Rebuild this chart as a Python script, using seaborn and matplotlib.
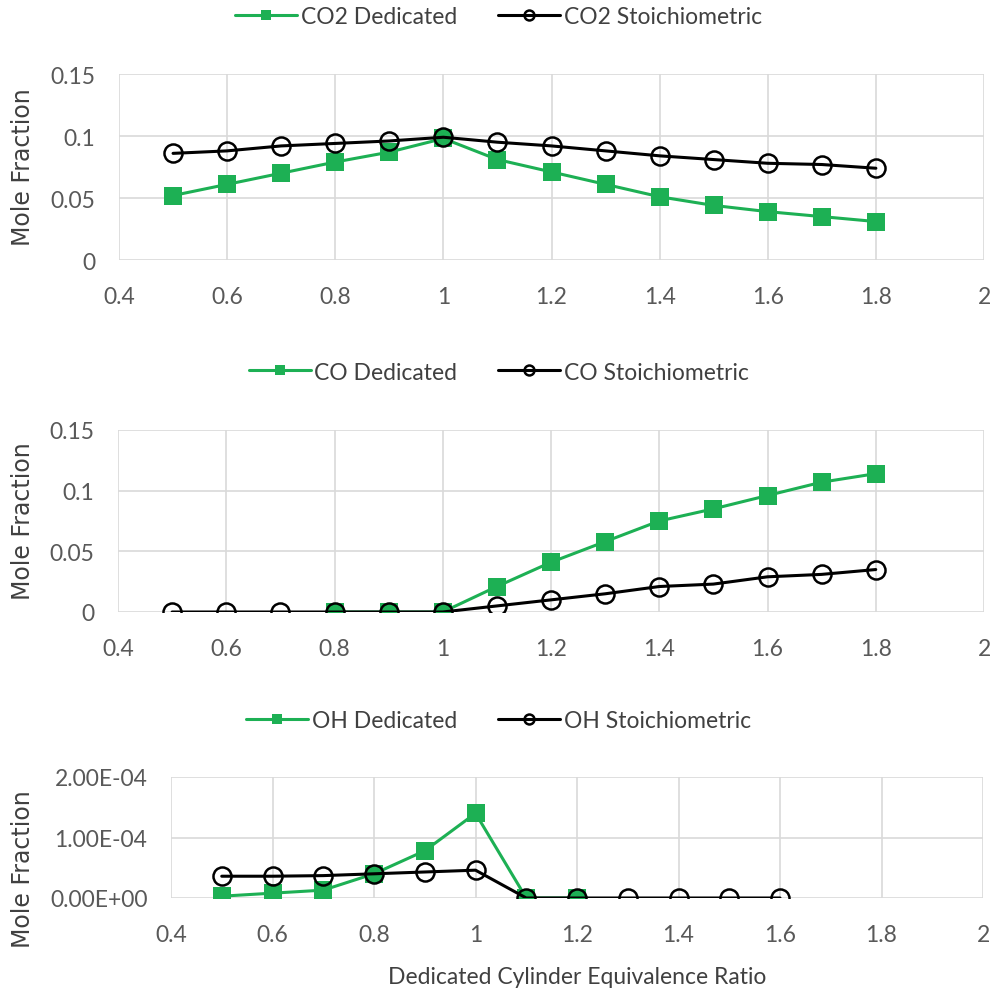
import matplotlib
matplotlib.use("Agg")
import matplotlib.pyplot as plt
import seaborn as sns
import pandas as pd

# Equivalence ratio of the dedicated cylinder
phi = [0.5, 0.6, 0.7, 0.8, 0.9, 1.0, 1.1, 1.2, 1.3, 1.4, 1.5, 1.6, 1.7, 1.8]

# CO2 mole fractions
co2_dedicated = [0.052, 0.061, 0.070, 0.079, 0.087, 0.098, 0.081, 0.071,
                 0.061, 0.051, 0.044, 0.039, 0.035, 0.031]
co2_stoich = [0.086, 0.088, 0.092, 0.094, 0.096, 0.099, 0.095, 0.092,
              0.088, 0.084, 0.081, 0.078, 0.077, 0.074]

# CO mole fractions (dedicated series starts at 0.8)
phi_co_dedicated = [0.8, 0.9, 1.0, 1.1, 1.2, 1.3, 1.4, 1.5, 1.6, 1.7, 1.8]
co_dedicated = [0.0, 0.0, 0.0, 0.021, 0.041, 0.058, 0.075, 0.085, 0.096,
                0.107, 0.114]
co_stoich = [0.0, 0.0, 0.0, 0.0, 0.0, 0.0, 0.005, 0.010, 0.015, 0.021,
             0.023, 0.029, 0.031, 0.035]

# OH mole fractions
phi_oh_dedicated = [0.5, 0.6, 0.7, 0.8, 0.9, 1.0, 1.1, 1.2]
oh_dedicated = [0.3e-5, 0.8e-5, 1.3e-5, 4.0e-5, 7.8e-5, 1.40e-4, 0.0, 0.0]
phi_oh_stoich = [0.5, 0.6, 0.7, 0.8, 0.9, 1.0, 1.1, 1.2, 1.3, 1.4, 1.5, 1.6]
oh_stoich = [3.6e-5, 3.6e-5, 3.7e-5, 4.0e-5, 4.3e-5, 4.6e-5, 0.0, 0.0,
             0.0, 0.0, 0.0, 0.0]

x_ticks = [0.4, 0.6, 0.8, 1.0, 1.2, 1.4, 1.6, 1.8, 2.0]
x_tick_labels = ["0.4", "0.6", "0.8", "1", "1.2", "1.4", "1.6", "1.8", "2"]
frac_ticks = [0.0, 0.05, 0.10, 0.15]
frac_tick_labels = ["0", "0.05", "0.1", "0.15"]
oh_ticks = [0.0, 1e-4, 2e-4]
oh_tick_labels = ["0.00E+00", "1.00E-04", "2.00E-04"]

GREEN = "#1DB054"
GRID = "#D9D9D9"
TICK_COLOR = "#595959"
TEXT_COLOR = "#404040"

sns.set_style("white")
plt.rcParams["font.family"] = ["Lato", "DejaVu Sans"]

W, H = 997, 995
fig = plt.figure(figsize=(W / 100, H / 100), dpi=100)


def px_axes(left, top, right, bottom):
    return fig.add_axes([left / W, 1 - bottom / H, (right - left) / W,
                         (bottom - top) / H])


ax1 = px_axes(119, 75, 984, 261)
ax2 = px_axes(118, 431, 984, 613)
ax3 = px_axes(171, 778, 983, 899)

panels = [
    (ax1, pd.DataFrame({"phi": phi, "y": co2_dedicated}),
     pd.DataFrame({"phi": phi, "y": co2_stoich}),
     "CO2 Dedicated", "CO2 Stoichiometric", frac_ticks, frac_tick_labels,
     (0, 0.15), 18, 167),
    (ax2, pd.DataFrame({"phi": phi_co_dedicated, "y": co_dedicated}),
     pd.DataFrame({"phi": phi, "y": co_stoich}),
     "CO Dedicated", "CO Stoichiometric", frac_ticks, frac_tick_labels,
     (0, 0.15), 373, 521),
    (ax3, pd.DataFrame({"phi": phi_oh_dedicated, "y": oh_dedicated}),
     pd.DataFrame({"phi": phi_oh_stoich, "y": oh_stoich}),
     "OH Dedicated", "OH Stoichiometric", oh_ticks, oh_tick_labels,
     (0, 2e-4), 722, 869),
]

for ax, ded, sto, lab_d, lab_s, yt, ytl, ylim, leg_y, ylab_y in panels:
    sns.lineplot(data=ded, x="phi", y="y", ax=ax, color=GREEN, linewidth=2.2,
                 marker="s", markersize=13.5, markeredgewidth=0,
                 markerfacecolor=GREEN, label=lab_d, zorder=3)
    sns.lineplot(data=sto, x="phi", y="y", ax=ax, color="black",
                 linewidth=2.2, marker="o", markersize=13,
                 markerfacecolor="none", markeredgecolor="black",
                 markeredgewidth=1.8, label=lab_s, zorder=4)
    ax.set_xlim(0.4, 2.0)
    ax.set_ylim(*ylim)
    ax.set_xticks(x_ticks)
    ax.set_xticklabels(x_tick_labels)
    ax.set_yticks(yt)
    ax.set_yticklabels(ytl)
    ax.grid(True, color=GRID, linewidth=1.2)
    ax.set_axisbelow(True)
    for s in ax.spines.values():
        s.set_visible(False)
    ax.tick_params(axis="both", length=0, labelsize=16.5,
                   labelcolor=TICK_COLOR)
    ax.tick_params(axis="y", pad=17)
    ax.tick_params(axis="x", pad=19)
    ax.set_xlabel("")
    ax.set_ylabel("")
    leg = ax.legend(loc="center", bbox_to_anchor=(0.5, 1 - leg_y / H),
                    bbox_transform=fig.transFigure, ncol=2, frameon=False,
                    fontsize=16.5, handlelength=2.7, handletextpad=0.15,
                    columnspacing=1.8, markerscale=0.55)
    for t in leg.get_texts():
        t.set_color(TEXT_COLOR)
    fig.text(23 / W, 1 - ylab_y / H, "Mole Fraction", rotation=90,
             ha="center", va="center", fontsize=17, color=TEXT_COLOR,
             family="DejaVu Sans")

fig.text(577 / W, 1 - 978 / H, "Dedicated Cylinder Equivalence Ratio",
         ha="center", va="center", fontsize=16.5, color=TEXT_COLOR)

fig.savefig("out.png", dpi=100, facecolor="white")
